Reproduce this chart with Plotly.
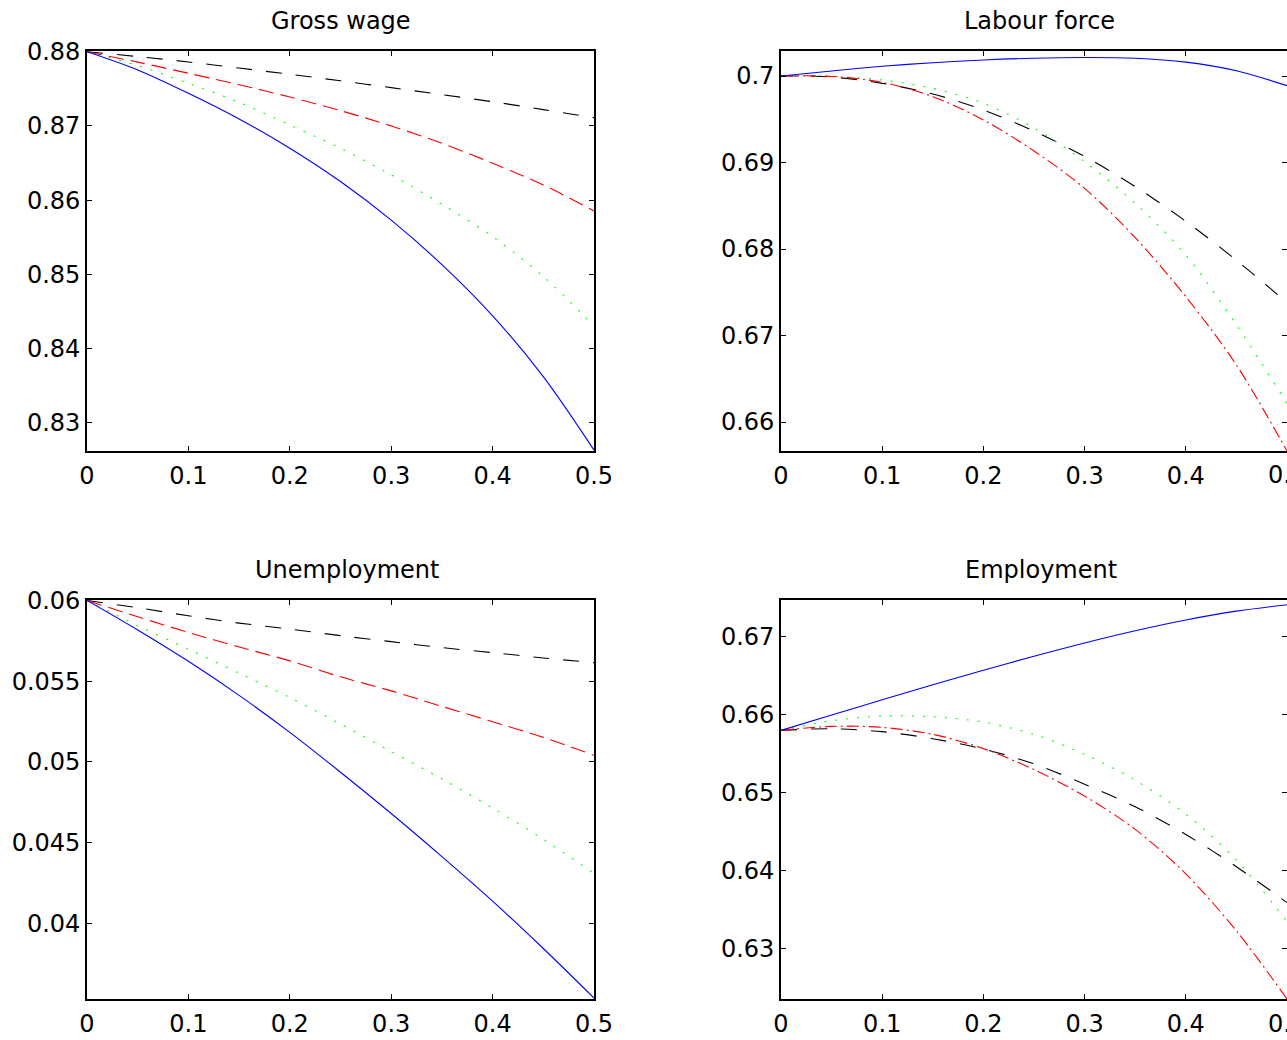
import plotly.graph_objects as go

# ---- data ----
x_vals = [0.0, 0.05, 0.1, 0.15, 0.2, 0.25, 0.3, 0.35, 0.4, 0.45, 0.5]

wage_blue  = [0.8800, 0.87755, 0.8744, 0.87094, 0.8670, 0.8625, 0.8573, 0.8513, 0.8444, 0.8362, 0.8263]
wage_black = [0.8800, 0.87935, 0.87862, 0.87780, 0.87696, 0.87608, 0.87516, 0.87422, 0.87326, 0.87220, 0.87112]
wage_red   = [0.8800, 0.87860, 0.87710, 0.87555, 0.87390, 0.87206, 0.8700, 0.86766, 0.86497, 0.86204, 0.85854]
wage_green = [0.8800, 0.87813, 0.87575, 0.87319, 0.87013, 0.86699, 0.8634, 0.85944, 0.85508, 0.84970, 0.84303]

lab_blue  = [0.7000, 0.70058, 0.70112, 0.70154, 0.70185, 0.70206, 0.70214, 0.70205, 0.70160, 0.70060, 0.69888]
lab_black = [0.7000, 0.69988, 0.69915, 0.69792, 0.69607, 0.69362, 0.69070, 0.68722, 0.68320, 0.67870, 0.67380]
lab_red   = [0.7000, 0.69995, 0.69927, 0.69761, 0.69492, 0.69133, 0.68701, 0.68131, 0.67449, 0.66659, 0.65665]
lab_green = [0.7000, 0.69998, 0.69954, 0.69857, 0.69684, 0.69400, 0.69010, 0.68528, 0.67931, 0.67122, 0.66216]

unemp_blue  = [0.0600, 0.05817, 0.05623, 0.05412, 0.05183, 0.04936, 0.04680, 0.04413, 0.04137, 0.03844, 0.03537]
unemp_black = [0.0600, 0.05955, 0.05905, 0.05860, 0.05823, 0.05782, 0.05745, 0.05708, 0.05677, 0.05644, 0.05615]
unemp_red   = [0.0600, 0.05899, 0.05802, 0.05712, 0.05626, 0.05527, 0.05440, 0.05344, 0.05249, 0.05152, 0.05041]
unemp_green = [0.0600, 0.05844, 0.05698, 0.05549, 0.05399, 0.05235, 0.05064, 0.04895, 0.04714, 0.04521, 0.04309]

emp_blue  = [0.65799, 0.65995, 0.66190, 0.66382, 0.66569, 0.66749, 0.66919, 0.67075, 0.67213, 0.67326, 0.67409]
emp_black = [0.65799, 0.65820, 0.65782, 0.65692, 0.65560, 0.65370, 0.65109, 0.64820, 0.64465, 0.64052, 0.63592]
emp_red   = [0.65799, 0.65850, 0.65837, 0.65748, 0.65565, 0.65296, 0.64956, 0.64530, 0.63960, 0.63230, 0.62357]
emp_green = [0.65799, 0.65922, 0.65982, 0.65973, 0.65905, 0.65748, 0.65492, 0.65160, 0.64725, 0.64137, 0.63349]

titles = ["Gross wage", "Labour force", "Unemployment", "Employment"]

x_ticks = [0, 0.1, 0.2, 0.3, 0.4, 0.5]
x_ticktext = ["0", "0.1", "0.2", "0.3", "0.4", "0.5"]

wage_ticks = [0.83, 0.84, 0.85, 0.86, 0.87, 0.88]
wage_ticktext = ["0.83", "0.84", "0.85", "0.86", "0.87", "0.88"]
lab_ticks = [0.66, 0.67, 0.68, 0.69, 0.70]
lab_ticktext = ["0.66", "0.67", "0.68", "0.69", "0.7"]
unemp_ticks = [0.04, 0.045, 0.05, 0.055, 0.06]
unemp_ticktext = ["0.04", "0.045", "0.05", "0.055", "0.06"]
emp_ticks = [0.63, 0.64, 0.65, 0.66, 0.67]
emp_ticktext = ["0.63", "0.64", "0.65", "0.66", "0.67"]

# ---- figure ----
W, H = 1287, 1040
FONT = "DejaVu Sans"
FS = 24

fig = go.Figure()

BLUE = "rgb(0,0,255)"
BLACK = "rgb(0,0,0)"
RED = "rgb(255,0,0)"
GREEN = "rgb(0,255,0)"

DASH_BLACK = "16px,14px"
DASH_RED = "15px,7px"
DASHDOT_RED = "12px,4px,2px,4px"
DOT_GREEN = "2px,9px"

panels = [
    (wage_blue, wage_black, wage_red, wage_green, DASH_RED, "x", "y"),
    (lab_blue, lab_black, lab_red, lab_green, DASHDOT_RED, "x2", "y2"),
    (unemp_blue, unemp_black, unemp_red, unemp_green, DASH_RED, "x3", "y3"),
    (emp_blue, emp_black, emp_red, emp_green, DASHDOT_RED, "x4", "y4"),
]

for blue, black, red, green, red_dash, xa, ya in panels:
    for vals, col, dash in [(black, BLACK, DASH_BLACK), (green, GREEN, DOT_GREEN),
                            (red, RED, red_dash), (blue, BLUE, "solid")]:
        fig.add_trace(go.Scatter(x=x_vals, y=vals, mode="lines", xaxis=xa, yaxis=ya,
                                 line=dict(color=col, width=1.1, dash=dash, shape="spline", smoothing=0.9),
                                 showlegend=False, hoverinfo="skip", cliponaxis=True))

left_dom = [87 / W, 594 / W]
right_dom = [781 / W, 1.0]
top_dom = [1 - 451 / H, 1 - 51 / H]
bot_dom = [1 - 999 / H, 1 - 600 / H]

def xaxis(dom, anchor, tv, tt):
    return dict(domain=dom, anchor=anchor, range=[0, 0.5], tickvals=tv, ticktext=tt,
                showline=True, linecolor="black", linewidth=1.6, mirror="ticks",
                ticks="inside", ticklen=5, tickwidth=1, tickcolor="black", automargin=False,
                showgrid=False, zeroline=False, ticklabelstandoff=2,
                tickfont=dict(family=FONT, size=FS, color="black"))

def yaxis(dom, anchor, rng, tv, tt):
    return dict(domain=dom, anchor=anchor, range=rng, tickvals=tv, ticktext=tt,
                showline=True, linecolor="black", linewidth=1.6, mirror="ticks",
                ticks="inside", ticklen=5, tickwidth=1, tickcolor="black", automargin=False,
                showgrid=False, zeroline=False, ticklabelstandoff=0,
                tickfont=dict(family=FONT, size=FS, color="black"))

fig.update_layout(
    width=W, height=H,
    margin=dict(l=0, r=0, t=0, b=0),
    paper_bgcolor="white", plot_bgcolor="white",
    xaxis=xaxis(left_dom, "y", x_ticks, x_ticktext),
    yaxis=yaxis(top_dom, "x", [0.82618, 0.88010], wage_ticks, wage_ticktext),
    xaxis2=xaxis(right_dom, "y2", x_ticks, x_ticktext),
    yaxis2=yaxis(top_dom, "x2", [0.65665, 0.70289], lab_ticks, lab_ticktext),
    xaxis3=xaxis(left_dom, "y3", x_ticks, x_ticktext),
    yaxis3=yaxis(bot_dom, "x3", [0.03531, 0.06003], unemp_ticks, unemp_ticktext),
    xaxis4=xaxis(right_dom, "y4", x_ticks, x_ticktext),
    yaxis4=yaxis(bot_dom, "x4", [0.62357, 0.67469], emp_ticks, emp_ticktext),
)

# the last x tick label of the right-hand panels sits on the page edge and is cut there
for xa, ylab in [("x2", 1 - 475 / H), ("x4", 1 - 1024 / H)]:
    fig.add_annotation(text=x_ticktext[-1], x=x_ticks[-1], y=ylab, xref=xa, yref="paper",
                       xanchor="center", yanchor="middle", showarrow=False,
                       font=dict(family=FONT, size=FS, color="black"))

title_pos = [(340.5 / W, 1 - 21 / H), (1039 / W, 1 - 21 / H),
             (347 / W, 1 - 570 / H), (1041 / W, 1 - 570 / H)]
for t, (tx, ty) in zip(titles, title_pos):
    fig.add_annotation(text=t, x=tx, y=ty, xref="paper", yref="paper",
                       xanchor="center", yanchor="middle", showarrow=False,
                       font=dict(family=FONT, size=FS, color="black"))

fig.write_html("out.html")
